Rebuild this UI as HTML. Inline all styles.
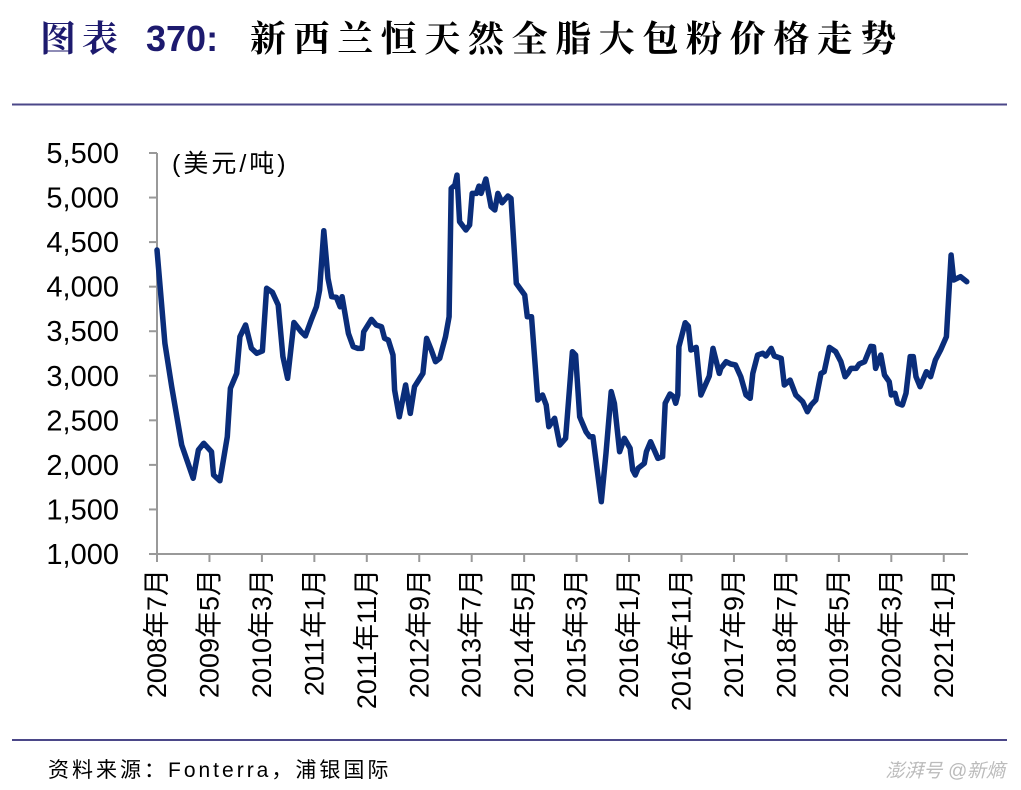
<!DOCTYPE html>
<html><head><meta charset="utf-8">
<style>
html,body{margin:0;padding:0;background:#fff;}
body{width:1021px;height:790px;overflow:hidden;position:relative;font-family:"Liberation Sans","Noto Sans CJK SC",sans-serif;}
</style></head>
<body>
<svg width="1021" height="790" viewBox="0 0 1021 790" style="position:absolute;left:0;top:0">
  <text x="40" y="51" font-size="36" font-weight="bold"><tspan fill="#1d1a6e" font-family="'Noto Serif CJK SC',serif" letter-spacing="6">图表</tspan><tspan x="146" fill="#1d1a6e" font-family="'Liberation Sans',sans-serif">370:</tspan><tspan x="250" fill="#000" font-family="'Noto Serif CJK SC',serif" letter-spacing="7.6">新西兰恒天然全脂大包粉价格走势</tspan></text>
  <line x1="12" y1="104.5" x2="1007" y2="104.5" stroke="#4b4788" stroke-width="2"/>
  <line x1="12" y1="740" x2="1007" y2="740" stroke="#4b4788" stroke-width="2"/>
  <text x="48" y="777" font-size="21" fill="#000" letter-spacing="3" font-family="'Liberation Sans','Noto Sans CJK SC',sans-serif">资料来源：Fonterra，浦银国际</text>
  <text x="1005" y="777" font-size="19" fill="#bbb" text-anchor="end" font-family="'Liberation Sans','Noto Sans CJK SC',sans-serif" font-style="italic">澎湃号 @新熵</text>
  <text x="172" y="172" font-size="25" fill="#000" letter-spacing="3" font-family="'Liberation Sans','Noto Sans CJK SC',sans-serif">(美元/吨)</text>
  <g id="axes"></g>
  <g id="plot"></g>
</svg>
<script>
const yTicks=[1000,1500,2000,2500,3000,3500,4000,4500,5000,5500];
const xTickLabels=["2008年7月","2009年5月","2010年3月","2011年1月","2011年11月","2012年9月","2013年7月","2014年5月","2015年3月","2016年1月","2016年11月","2017年9月","2018年7月","2019年5月","2020年3月","2021年1月"];
const xTickMonths=[0,10,20,30,40,50,60,70,80,90,100,110,120,130,140,150];
// months since 2008-07
const months=[0,1.5,2.8,4.7,6.9,7.9,8.9,10.4,10.8,12,13.4,14,15.2,15.8,16.9,18,19,20.1,20.9,22,23.1,24,24.9,26.1,27.5,28.3,29.4,30.4,31,31.8,32.6,33.3,34.2,34.9,35.3,36.5,37.4,38.3,39.1,39.4,40.9,41.8,42.8,43.4,44.1,45,45.3,46.2,47.4,48.3,49.1,50.7,51.4,52.3,53.1,53.9,55,55.7,56.1,56.8,57.2,57.7,58.9,59.6,60.1,60.9,61.4,61.8,62.7,63.7,64.4,65,65.8,66.9,67.5,68.5,70.1,70.6,71.4,72.6,73.5,74.2,74.7,75.8,76.8,77.9,79.2,79.8,80.6,81.8,82.5,83.1,84.7,85.6,86.6,87.2,88.2,89.1,90.2,90.7,91.2,91.7,92.9,93.3,94.1,95.5,96.4,96.9,97.8,98.5,98.9,99.3,99.5,100.7,101.3,101.8,102.8,103.7,105.3,106,107.2,107.5,108.5,109.4,110.3,111.3,112.3,113.1,113.6,114.5,115.5,116.1,117.1,117.7,119,119.6,120.7,121.8,123.1,124,124.7,125.6,126.6,127.2,128.2,129.4,130.4,131.2,131.7,132.3,133.3,133.9,134.9,136.1,136.6,137,138,138.7,139.6,140,140.7,141.2,142.1,142.8,143.6,144.2,144.7,145.5,146.7,147.5,148.4,149.4,150.5,151.4,151.9,153.2,154.4];
const prices=[4411,3364,2877,2223,1849,2167,2242,2148,1886,1822,2316,2859,3027,3438,3570,3308,3252,3278,3982,3937,3794,3215,2972,3598,3493,3448,3625,3774,3962,4628,4093,3887,3880,3774,3887,3476,3326,3307,3307,3493,3633,3570,3551,3420,3401,3233,2840,2540,2896,2578,2877,3027,3420,3289,3158,3195,3438,3663,5103,5140,5252,4729,4636,4692,5047,5047,5129,5047,5208,4897,4860,5047,4942,5017,4991,4037,3906,3663,3663,2728,2784,2672,2429,2523,2223,2298,3270,3233,2540,2372,2316,2316,1587,2130,2822,2691,2148,2298,2186,1943,1886,1961,2017,2148,2260,2073,2092,2691,2795,2765,2691,2784,3326,3596,3558,3289,3319,2784,2997,3307,3027,3083,3158,3132,3121,2990,2784,2747,3027,3233,3252,3222,3307,3222,3195,2896,2952,2784,2709,2597,2672,2728,3027,3046,3319,3270,3158,2990,3027,3083,3083,3132,3158,3330,3326,3083,3233,3009,2934,2784,2803,2691,2672,2803,3215,3215,2990,2877,3046,2990,3177,3289,3438,4355,4075,4112,4056];

const NS="http://www.w3.org/2000/svg";
const X0=157, PXM=5.245, Y0=554, Y1=153;
function xs(m){return X0+m*PXM;}
function ys(v){return Y0-(v-1000)/(5500-1000)*(Y0-Y1);}
function mk(tag,attrs,parent){const e=document.createElementNS(NS,tag);for(const k in attrs)e.setAttribute(k,attrs[k]);parent.appendChild(e);return e;}
const axes=document.getElementById('axes'), plot=document.getElementById('plot');

const yAxis=mk('line',{x1:X0,y1:Y1,x2:X0,y2:Y0,stroke:'#999','stroke-width':2},axes);


const xAxis=mk('line',{x1:X0,y1:Y0,x2:968,y2:Y0,stroke:'#999','stroke-width':2},axes);



yTicks.forEach(v=>{
  const y=ys(v);
  const t=mk('line',{x1:X0-8,y1:y,x2:X0,y2:y,stroke:'#999','stroke-width':2},axes);
  
  
  const l=mk('text',{x:119,y:y+10,'font-size':29,'text-anchor':'end',fill:'#000','font-family':"'Liberation Sans',sans-serif"},axes);
  
  
  l.textContent=v.toLocaleString('en-US');
});
xTickMonths.forEach((m,i)=>{
  const x=xs(m);
  const t=mk('line',{x1:x,y1:Y0,x2:x,y2:Y0+8,stroke:'#999','stroke-width':2},axes);
  
  
  const l=mk('text',{x:0,y:0,'font-size':27,'text-anchor':'end',fill:'#000','font-family':"'Liberation Sans','Noto Sans CJK SC',sans-serif",transform:`translate(${x+9},569) rotate(-90)`},axes);
  
  
  l.textContent=xTickLabels[i];
});
const d=months.map((m,i)=>(i?'L':'M')+xs(m).toFixed(1)+','+ys(prices[i]).toFixed(1)).join(' ');
const line=mk('path',{d:d,fill:'none',stroke:'#0a2d7a','stroke-width':5.5,'stroke-linejoin':'round','stroke-linecap':'round'},plot);


</script>
</body></html>
